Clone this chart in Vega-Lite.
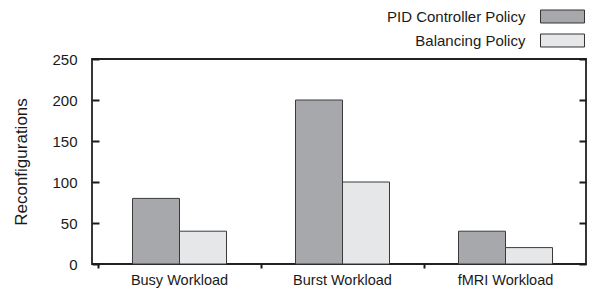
{
  "$schema": "https://vega.github.io/schema/vega-lite/v6.json",
  "autosize": "none",
  "width": 494,
  "height": 205,
  "padding": {"left": 92, "top": 59, "right": 6, "bottom": 27},
  "background": "white",
  "config": {
    "font": "Liberation Sans",
    "view": {"stroke": "#222222", "strokeWidth": 1.8},
    "axis": {"grid": false, "domain": false, "labelColor": "#1a1a1a", "titleColor": "#1a1a1a", "tickColor": "#1a1a1a", "tickWidth": 2, "labelFontWeight": "normal", "titleFontWeight": "normal"}
  },
  "data": {
    "values": [
      {"workload": "Busy Workload", "policy": "PID Controller Policy", "reconfigurations": 80},
      {"workload": "Busy Workload", "policy": "Balancing Policy", "reconfigurations": 40},
      {"workload": "Burst Workload", "policy": "PID Controller Policy", "reconfigurations": 200},
      {"workload": "Burst Workload", "policy": "Balancing Policy", "reconfigurations": 100},
      {"workload": "fMRI Workload", "policy": "PID Controller Policy", "reconfigurations": 40},
      {"workload": "fMRI Workload", "policy": "Balancing Policy", "reconfigurations": 20}
    ]
  },
  "encoding": {
    "x": {
      "field": "workload", "type": "nominal", "sort": null,
      "scale": {"range": [6, 495], "paddingInner": 0, "paddingOuter": 0},
      "axis": {"title": null, "labelAngle": 0, "labelFontSize": 14.5, "tickSize": 4, "labelPadding": 5, "bandPosition": 0}
    },
    "xOffset": {
      "field": "policy", "type": "nominal", "sort": ["PID Controller Policy", "Balancing Policy"],
      "scale": {"paddingInner": 0, "paddingOuter": 0.734}
    },
    "y": {
      "field": "reconfigurations", "type": "quantitative",
      "scale": {"domain": [0, 250], "nice": false},
      "axis": {"title": "Reconfigurations", "values": [0, 50, 100, 150, 200, 250], "labelFontSize": 15, "titleFontSize": 17, "offset": -7, "tickSize": 7, "labelPadding": 15, "titlePadding": 21}
    },
    "fill": {
      "field": "policy", "type": "nominal", "sort": ["PID Controller Policy", "Balancing Policy"],
      "scale": {"domain": ["PID Controller Policy", "Balancing Policy"], "range": ["#a7a8ab", "#e6e7e8"]},
      "legend": {
        "orient": "none", "legendX": 455, "legendY": -58, "title": null, "padding": 0,
        "symbolType": "M-1.5,-0.443H1.5V0.443H-1.5Z", "symbolSize": 860,
        "symbolStrokeColor": "#333333", "symbolStrokeWidth": 1,
        "labelAlign": "right", "labelOffset": -52.6, "labelFontSize": 15, "labelColor": "#1a1a1a",
        "rowPadding": -6, "labelLimit": 300
      }
    }
  },
  "layer": [
    {"mark": {"type": "bar", "stroke": "#3a3a3a", "strokeWidth": 1}},
    {
      "mark": {"type": "bar", "opacity": 0},
      "encoding": {
        "y": {
          "field": "reconfigurations", "type": "quantitative",
          "axis": {"orient": "right", "title": null, "labels": false, "values": [0, 50, 100, 150, 200, 250], "offset": -7, "tickSize": 7}
        }
      }
    }
  ],
  "resolve": {"axis": {"y": "independent"}}
}
